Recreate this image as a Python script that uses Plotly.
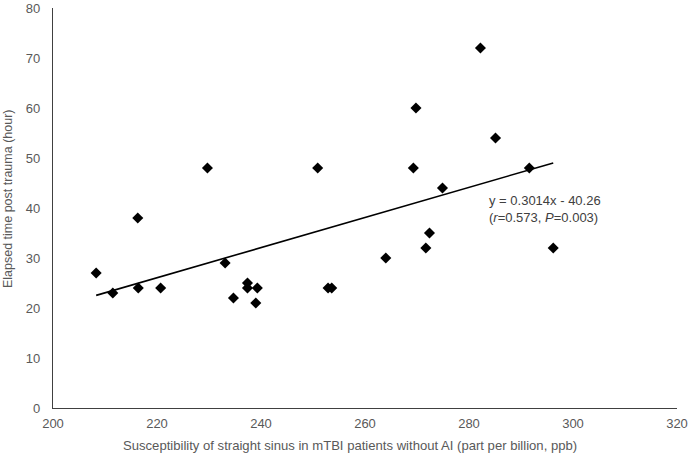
import numpy as np
import plotly.graph_objects as go

# susceptibility (ppb) vs elapsed time (hour)
susceptibility = [208.3, 211.5, 216.3, 216.4, 220.7, 229.7, 233.1, 234.7, 237.4,
                  237.4, 239.3, 239.0, 252.9, 253.6, 264.0, 271.7, 272.4, 250.9,
                  269.8, 269.3, 274.9, 282.2, 285.1, 291.6, 296.2]
elapsed_hours = [27, 23, 38, 24, 24, 48, 29, 22, 25,
                 24, 24, 21, 24, 24, 30, 32, 35, 48,
                 60, 48, 44, 72, 54, 48, 32]

slope, intercept = 0.3014, -40.26

x_fit = np.array([min(susceptibility), max(susceptibility)])
y_fit = slope * x_fit + intercept

grey = "#595959"
font = "Liberation Sans, Arial, sans-serif"

fig = go.Figure()
fig.add_trace(go.Scatter(
    x=x_fit, y=y_fit, mode="lines",
    line=dict(color="black", width=1.6),
    hoverinfo="skip",
))
fig.add_trace(go.Scatter(
    x=susceptibility, y=elapsed_hours, mode="markers",
    marker=dict(symbol="diamond", size=8.5, color="black"),
))

fig.add_annotation(
    x=283.4, y=39.9, xref="x", yref="y",
    text="y = 0.3014x - 40.26<br>(<i>r</i>=0.573, <i>P</i>=0.003)",
    showarrow=False, xanchor="left", yanchor="middle", align="left",
    font=dict(family=font, size=13, color="#404040"),
)

# axis titles as annotations: in the reference they sit a bit off-centre
fig.add_annotation(
    x=0.476, y=-0.093, xref="paper", yref="paper",
    text="Susceptibility of straight sinus in mTBI patients without AI (part per billion, ppb)",
    showarrow=False, xanchor="center", yanchor="middle",
    font=dict(family=font, size=13.1, color=grey),
)
fig.add_annotation(
    x=-0.072, y=0.5225, xref="paper", yref="paper",
    text="Elapsed time post trauma (hour)", textangle=-90,
    showarrow=False, xanchor="center", yanchor="middle",
    font=dict(family=font, size=12.5, color=grey),
)

fig.update_layout(
    width=689, height=457,
    margin=dict(l=53, r=12, t=8, b=49),
    plot_bgcolor="white", paper_bgcolor="white",
    showlegend=False,
    font=dict(family=font, size=13, color=grey),
)
fig.update_xaxes(
    range=[200, 320], dtick=20, showgrid=False, zeroline=False,
    showline=True, linecolor="#404040", linewidth=1.3,
    ticks="", tickfont=dict(size=13, color=grey), ticklabelstandoff=3,
    automargin=False,
)
fig.update_yaxes(
    range=[0, 80], dtick=10, showgrid=False, zeroline=False,
    showline=True, linecolor="#404040", linewidth=1.3,
    ticks="", tickfont=dict(size=13, color=grey), ticklabelstandoff=9,
    automargin=False,
)

# the page's default body margin would shift the figure by 8px
fig.write_html("out.html", config={"displayModeBar": False},
               post_script="document.body.style.margin = '0';")
